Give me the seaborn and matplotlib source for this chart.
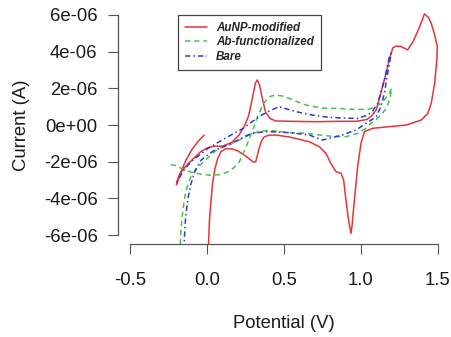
import numpy as np
import pandas as pd
import matplotlib
matplotlib.use("Agg")
import matplotlib.pyplot as plt
import seaborn as sns

# ── Data (potential in V, current in µA) ──────────────────────────────────────
aunp_v = [-0.02, -0.06, -0.10, -0.14, -0.17, -0.19, -0.20, -0.195, -0.18, -0.155,
          -0.128, -0.08, -0.041, 0.0, 0.046, 0.10, 0.16, 0.207, 0.24, 0.27,
          0.295, 0.315, 0.326, 0.34, 0.36, 0.38, 0.41, 0.446, 0.55, 0.70,
          0.85, 0.97, 1.04, 1.07, 1.10, 1.13, 1.164, 1.19, 1.208, 1.23,
          1.262, 1.305, 1.34, 1.38, 1.414, 1.44, 1.458, 1.48, 1.49, 1.497,
          1.495, 1.48, 1.458, 1.436, 1.393, 1.295, 1.186, 1.077, 1.023, 1.001,
          0.979, 0.958, 0.942, 0.936, 0.92, 0.903, 0.888, 0.871, 0.838, 0.805,
          0.773, 0.729, 0.664, 0.60, 0.533, 0.45, 0.403, 0.37, 0.352, 0.337,
          0.326, 0.316, 0.30, 0.283, 0.24, 0.198, 0.16, 0.122, 0.09, 0.068,
          0.05, 0.035, 0.025, 0.015, 0.01, 0.005]
aunp_i = [-0.55, -0.9, -1.35, -1.95, -2.55, -3.0, -3.25, -3.05, -2.7, -2.4,
          -2.15, -1.75, -1.45, -1.25, -1.15, -1.15, -0.95, -0.55, -0.1, 0.5,
          1.5, 2.3, 2.45, 2.2, 1.4, 0.7, 0.35, 0.22, 0.2, 0.18,
          0.2, 0.2, 0.3, 0.5, 0.82, 1.73, 2.82, 3.72, 4.2, 4.3,
          4.27, 4.09, 4.55, 5.3, 6.05, 5.85, 5.54, 4.9, 4.54, 4.3,
          3.6, 2.27, 1.18, 0.64, 0.27, 0.0, -0.09, -0.18, -0.36, -1.0,
          -2.27, -4.09, -5.54, -5.9, -5.18, -4.09, -3.0, -2.63, -2.54, -2.09,
          -1.54, -1.18, -0.91, -0.78, -0.65, -0.55, -0.55, -0.65, -0.9, -1.3,
          -1.7, -2.0, -2.02, -1.9, -1.63, -1.4, -1.3, -1.29, -1.45, -1.84,
          -2.4, -3.2, -4.1, -5.2, -6.3, -8.0]

ab_v = [-0.178, -0.175, -0.17, -0.163, -0.152, -0.141, -0.125, -0.108, -0.085, -0.063,
        -0.03, 0.003, 0.055, 0.10, 0.142, 0.19, 0.23, 0.294, 0.38, 0.45,
        0.533, 0.642, 0.729, 0.816, 0.903, 0.98, 1.03, 1.066, 1.10, 1.13,
        1.16, 1.18, 1.192, 1.20, 1.19, 1.175, 1.15, 1.13, 1.10, 1.045,
        0.95, 0.85, 0.75, 0.696, 0.642, 0.59, 0.533, 0.49, 0.446, 0.403,
        0.37, 0.33, 0.30, 0.272, 0.24, 0.209, 0.17, 0.133, 0.08, 0.024,
        -0.04, -0.106, -0.16, -0.204, -0.25]
ab_i = [-7.5, -6.5, -5.7, -5.0, -4.3, -3.72, -3.25, -2.85, -2.6, -2.35,
        -2.05, -1.8, -1.4, -1.2, -1.09, -0.9, -0.73, -0.45, -0.3, -0.33,
        -0.42, -0.45, -0.54, -0.62, -0.64, -0.45, -0.2, 0.09, 0.3, 0.54,
        0.85, 1.2, 1.55, 2.0, 1.8, 1.6, 1.35, 1.18, 1.0, 0.85,
        0.85, 0.9, 0.92, 1.0, 1.09, 1.25, 1.45, 1.58, 1.63, 1.54,
        1.2, 0.5, -0.2, -0.8, -1.45, -2.02, -2.35, -2.56, -2.7, -2.74,
        -2.68, -2.56, -2.4, -2.2, -2.15]

bare_v = [-0.152, -0.15, -0.147, -0.14, -0.125, -0.105, -0.08, -0.04, 0.0, 0.046,
          0.133, 0.207, 0.25, 0.294, 0.381, 0.45, 0.533, 0.60, 0.664, 0.71,
          0.75, 0.794, 0.881, 0.969, 1.034, 1.10, 1.13, 1.153, 1.17, 1.185,
          1.197, 1.186, 1.17, 1.153, 1.11, 1.075, 1.044, 0.979, 0.87, 0.762,
          0.685, 0.577, 0.50, 0.468, 0.40, 0.337, 0.231, 0.111, 0.003, -0.106,
          -0.16, -0.2]
bare_i = [-7.5, -6.5, -6.0, -5.0, -4.0, -3.2, -2.5, -1.92, -1.65, -1.38,
          -1.1, -0.8, -0.6, -0.45, -0.36, -0.38, -0.42, -0.48, -0.54, -0.7,
          -0.82, -0.73, -0.54, -0.27, 0.09, 0.45, 1.0, 1.73, 2.6, 3.3,
          3.9, 3.72, 3.1, 2.45, 1.18, 0.75, 0.54, 0.36, 0.38, 0.45,
          0.54, 0.73, 0.92, 1.0, 0.75, 0.45, -0.2, -0.75, -1.29, -2.0,
          -2.55, -3.2]

labels  = ["AuNP-modified", "Ab-functionalized", "Bare"]
x_ticks = [-0.5, 0.0, 0.5, 1.0, 1.5]
y_ticks = [-6e-06, -4e-06, -2e-06, 0.0, 2e-06, 4e-06, 6e-06]

# ── Long table for seaborn ────────────────────────────────────────────────────
frames = []
for name, v, i in zip(labels, [aunp_v, ab_v, bare_v], [aunp_i, ab_i, bare_i]):
    assert len(v) == len(i), name
    frames.append(pd.DataFrame({
        "potential": v,
        "current": np.array(i) * 1e-6,
        "electrode": name,
    }))
df = pd.concat(frames, ignore_index=True)

sns.set_style("white")
plt.rcParams["font.family"] = ["Liberation Sans", "DejaVu Sans"]

fig = plt.figure(figsize=(4.51, 3.37), dpi=100)
ax = fig.add_axes([118 / 451, 1 - 244 / 337, 332 / 451, 238 / 337])

palette = {"AuNP-modified": "#e8333c", "Ab-functionalized": "#4cbf4c", "Bare": "#2a3ad6"}
dashes  = {"AuNP-modified": "", "Ab-functionalized": (3.5, 2.5), "Bare": (3.5, 2, 1, 2)}

sns.lineplot(
    data=df, x="potential", y="current",
    hue="electrode", style="electrode",
    hue_order=labels, style_order=labels,
    palette=palette, dashes=dashes,
    sort=False, estimator=None, lw=1.1, ax=ax,
)

ax.set_xlim(-0.58, 1.58)
ax.set_ylim(-6.48e-06, 6.48e-06)

# ── R-like axes ───────────────────────────────────────────────────────────────
axis_col = "#555555"
for side in ["top", "right"]:
    ax.spines[side].set_visible(False)
ax.spines["left"].set_bounds(y_ticks[0], y_ticks[-1])
ax.spines["bottom"].set_bounds(x_ticks[0], x_ticks[-1])
for side in ["left", "bottom"]:
    ax.spines[side].set_color(axis_col)
    ax.spines[side].set_linewidth(0.9)

ax.set_xticks(x_ticks)
ax.set_yticks(y_ticks)
ax.xaxis.set_major_formatter(plt.FuncFormatter(lambda v, p: f"{v:.1f}"))
ax.yaxis.set_major_formatter(plt.FuncFormatter(lambda v, p: f"{v:.0e}"))
ax.tick_params(axis="both", direction="out", length=7.2, width=0.8,
               color=axis_col, labelsize=13.3, labelcolor="#1a1a1a")
ax.tick_params(axis="x", pad=13)
ax.tick_params(axis="y", pad=7.5)
ax.tick_params(left=True, bottom=True)

ax.set_xlabel("Potential (V)", fontsize=13.3, color="#1a1a1a")
ax.set_ylabel("Current (A)", fontsize=13.3, color="#1a1a1a")
ax.xaxis.set_label_coords(0.5, (244 - 323) / 238)
ax.xaxis.label.set_va("center")
ax.yaxis.set_label_coords((22 - 118) / 332, 0.5)
ax.yaxis.label.set_va("center")

handles, hl = ax.get_legend_handles_labels()
leg = ax.legend(
    handles, hl, loc="upper left",
    bbox_to_anchor=(178 / 451, 1 - 15 / 337), bbox_transform=fig.transFigure,
    borderaxespad=0, prop={"size": 8.4, "weight": "bold", "style": "italic"},
    frameon=True, fancybox=False, shadow=False, framealpha=1,
    handlelength=1.9, handletextpad=0.75, labelspacing=0.2, borderpad=0.6,
)
leg.get_frame().set_edgecolor("#444444")
leg.get_frame().set_linewidth(0.9)

fig.savefig("out.png", dpi=100)
plt.close(fig)
